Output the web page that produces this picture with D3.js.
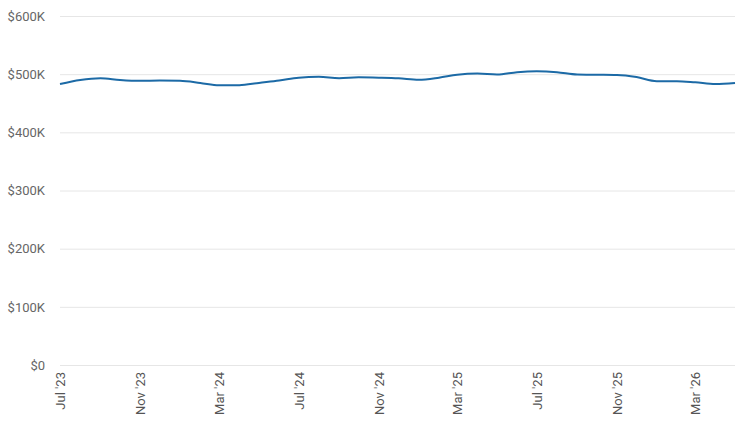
<!DOCTYPE html>
<html>
<head>
<meta charset="utf-8">
<script src="https://cdn.jsdelivr.net/npm/d3@7"></script>
<style>
  body { margin: 0; background: #fff; }
  svg { display: block; font-family: Roboto, "Noto Sans", sans-serif; }
</style>
</head>
<body>
<div id="chart"></div>
<script>
var width = 750, height = 425;
var margin = {top: 16, right: 15, bottom: 60, left: 60};

// monthly values, Jul 2023 .. May 2026
var months = ["2023-07","2023-08","2023-09","2023-10","2023-11","2023-12",
              "2024-01","2024-02","2024-03","2024-04","2024-05","2024-06",
              "2024-07","2024-08","2024-09","2024-10","2024-11","2024-12",
              "2025-01","2025-02","2025-03","2025-04","2025-05","2025-06",
              "2025-07","2025-08","2025-09","2025-10","2025-11","2025-12",
              "2026-01","2026-02","2026-03","2026-04","2026-05"];
var prices = [483000, 490000, 493000, 490000, 488500, 489000,
              488500, 485000, 481000, 481000, 485000, 489000,
              494000, 495500, 493000, 494500, 494000, 493000,
              490500, 494000, 499000, 501000, 499500, 503500,
              505000, 503500, 499500, 499000, 498500, 495000,
              488000, 488000, 486000, 483000, 485000];
var yTicks = [0, 100000, 200000, 300000, 400000, 500000, 600000];
var xTicks = ["2023-07","2023-11","2024-03","2024-07","2024-11",
              "2025-03","2025-07","2025-11","2026-03"];

var parse = d3.timeParse("%Y-%m");
var data = months.map(function(m, i) { return {date: parse(m), value: prices[i]}; });

var svg = d3.select("#chart").append("svg")
    .attr("width", width)
    .attr("height", height);

var x = d3.scaleTime()
    .domain(d3.extent(data, function(d) { return d.date; }))
    .range([margin.left, width - margin.right]);

var y = d3.scaleLinear()
    .domain([0, 600000])
    .range([height - margin.bottom, margin.top]);

// gridlines + y labels
var yAxis = svg.append("g")
    .attr("transform", "translate(" + margin.left + ",0)")
    .call(d3.axisLeft(y)
        .tickValues(yTicks)
        .tickSize(-(width - margin.left - margin.right))
        .tickPadding(15)
        .tickFormat(function(d) { return d === 0 ? "$0" : "$" + d / 1000 + "K"; }));
yAxis.select(".domain").remove();
yAxis.selectAll(".tick line").attr("stroke", "#e6e6e6");
yAxis.selectAll(".tick text")
    .attr("fill", "#666")
    .style("font-size", "13px")
    .style("font-family", "Roboto, sans-serif");

// x labels (rotated)
var xAxis = svg.append("g")
    .attr("transform", "translate(0," + (height - margin.bottom) + ")")
    .call(d3.axisBottom(x)
        .tickValues(xTicks.map(parse))
        .tickSize(0)
        .tickFormat(d3.timeFormat("%b '%y")));
xAxis.select(".domain").remove();
xAxis.selectAll(".tick text")
    .attr("fill", "#555")
    .style("font-size", "13px")
    .style("font-family", "Roboto, sans-serif")
    .attr("text-anchor", "end")
    .attr("transform", "rotate(-90)")
    .attr("x", -7)
    .attr("y", 0)
    .attr("dy", "0.35em");

var line = d3.line()
    .x(function(d) { return x(d.date); })
    .y(function(d) { return y(d.value); })
    .curve(d3.curveMonotoneX);

svg.append("path")
    .datum(data)
    .attr("fill", "none")
    .attr("stroke", "#1c6aa6")
    .attr("stroke-width", 2)
    .attr("d", line);
</script>
</body>
</html>
